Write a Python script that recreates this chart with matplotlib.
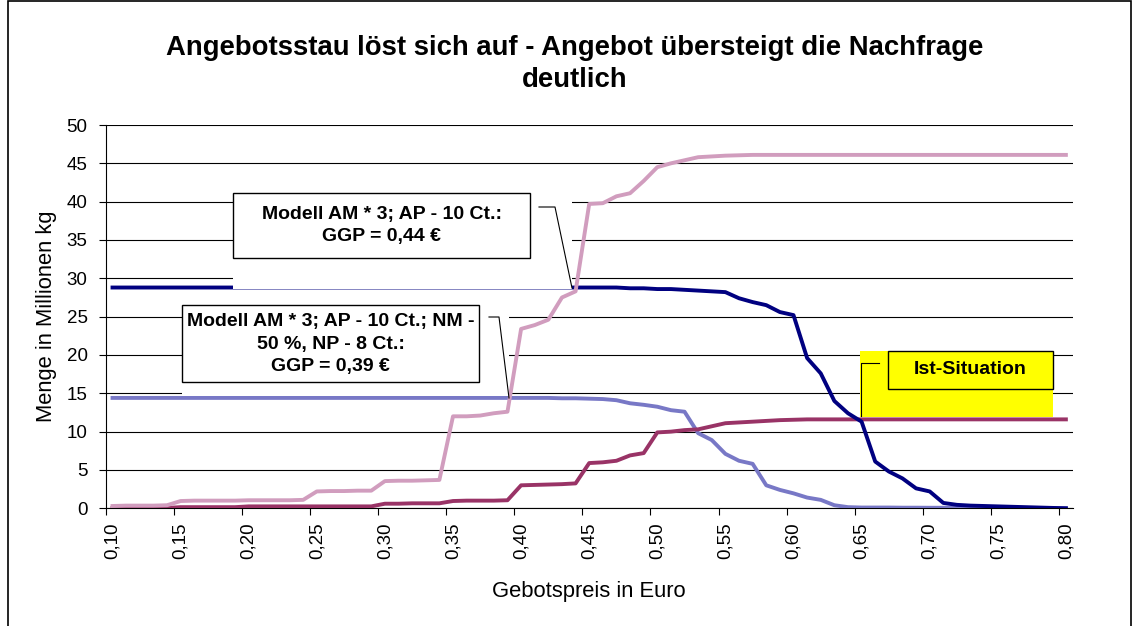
import numpy as np
import matplotlib
matplotlib.use("Agg")
import matplotlib.pyplot as plt
from matplotlib.patches import Rectangle
from matplotlib.lines import Line2D

plt.rcParams['font.family'] = ['Liberation Sans', 'DejaVu Sans']

# =====================
# DATA
# =====================

preise = np.round(np.arange(0.10, 0.8001, 0.01), 2)
preis_labels = [f"{p:.2f}".replace(".", ",") for p in preise]

# Angebot Modell AM*3; AP-10 Ct. (rosa)
angebot_modell1 = [0.3, 0.35, 0.35, 0.35, 0.4,
                   0.95, 1.0, 1.0, 1.0, 1.0, 1.05, 1.05, 1.05, 1.05, 1.1,
                   2.2, 2.25, 2.25, 2.3, 2.3,
                   3.55, 3.6, 3.6, 3.65, 3.7,
                   12.0, 12.0, 12.1, 12.4, 12.6,
                   23.4, 23.9, 24.6, 27.5, 28.3,
                   39.7, 39.8, 40.7, 41.1, 42.7,
                   44.5, 45.0, 45.4, 45.8, 45.9,
                   46.0, 46.05] + [46.1] * 24

# Nachfrage Modell AM*3; AP-10 Ct. (dunkelblau)
nachfrage_modell1 = [28.8] * 38 + [
    28.7, 28.7, 28.6, 28.6, 28.5, 28.4, 28.3, 28.2, 27.4, 26.9,
    26.5, 25.6, 25.2, 19.6, 17.6, 14.0, 12.4, 11.3, 6.1, 4.8,
    3.9, 2.6, 2.2, 0.7, 0.45, 0.35, 0.3, 0.25, 0.2, 0.15,
    0.1, 0.05, 0.0]

# Nachfrage Modell mit NM -50 %, NP -8 Ct. (hellblau)
nachfrage_modell2 = [14.4] * 33 + [
    14.35, 14.35, 14.3, 14.25, 14.1, 13.7, 13.5, 13.25, 12.8, 12.6,
    9.8, 8.9, 7.1, 6.2, 5.8, 3.0, 2.4, 1.95, 1.4, 1.1,
    0.4, 0.15, 0.1,
    0.1, 0.1, 0.08, 0.08, 0.07, 0.07, 0.06, 0.06, 0.05, 0.05,
    0.05, 0.04, 0.04, 0.03, 0.03]

# Angebot Ist-Situation (weinrot)
angebot_ist = [0.05] * 5 + [0.15] * 5 + [0.25] * 10 + [
    0.6, 0.6, 0.65, 0.65, 0.65,
    0.95, 1.0, 1.0, 1.0, 1.05,
    3.0, 3.05, 3.1, 3.15, 3.25,
    5.9, 6.0, 6.2, 6.9, 7.2,
    9.9, 10.0, 10.2, 10.3, 10.7,
    11.1, 11.2, 11.3, 11.4, 11.5,
    11.55] + [11.6] * 20

titel = "Angebotsstau löst sich auf - Angebot übersteigt die Nachfrage\ndeutlich"
text_modell1 = "Modell AM * 3; AP - 10 Ct.:\nGGP = 0,44 €"
text_modell2 = "Modell AM * 3; AP - 10 Ct.; NM -\n50 %, NP - 8 Ct.:\nGGP = 0,39 €"
text_ist = "Ist-Situation"

# =====================
# PLOT
# =====================

W, H = 1139, 626
fig = plt.figure(figsize=(W / 100, H / 100), dpi=100)

def fx(x):
    return x / W

def fy(y):
    return 1 - y / H

ax = fig.add_axes([fx(105.7), fy(508.3), fx(1072.7) - fx(105.7), fy(125) - fy(508.3)])

idx = np.arange(len(preise))
ax.plot(idx, nachfrage_modell2, color="#7878C6", lw=2.8, zorder=3)
ax.plot(idx, angebot_ist, color="#993366", lw=2.8, zorder=4)
ax.plot(idx, nachfrage_modell1, color="#000080", lw=2.8, zorder=5)
ax.plot(idx, angebot_modell1, color="#D19DBE", lw=2.8, zorder=6)

ax.set_xlim(-0.5, len(preise) - 0.5)
ax.set_ylim(0, 50)
ax.set_yticks(np.arange(0, 51, 5))
ax.yaxis.grid(True, color="black", lw=0.8)
ax.set_axisbelow(True)

ax.set_xticks(idx[::5])
ax.set_xticklabels(preis_labels[::5], rotation=90)
ax.set_xticks(np.arange(-0.5, len(preise) - 1, 5), minor=True)
ax.tick_params(axis="x", which="major", length=0, labelsize=13.5, pad=10)
ax.tick_params(axis="x", which="minor", length=5, width=0.8)
ax.tick_params(axis="y", length=5, width=0.8, labelsize=13.5, pad=8)

for s in ["top", "right"]:
    ax.spines[s].set_visible(False)
ax.spines["left"].set_linewidth(0.8)
ax.spines["bottom"].set_linewidth(0.8)

ax.set_ylabel("Menge in Millionen kg", fontsize=15.8, labelpad=7)
ax.set_xlabel("Gebotspreis in Euro", fontsize=15.8, labelpad=16)

fig.text(fx(575), fy(64), titel, ha="center", va="center", fontsize=19.8,
         fontweight="bold", linespacing=1.3)

# Rahmen um das Diagramm
fig.add_artist(Rectangle((fx(8), -0.01), fx(1131) - fx(8), fy(1) + 0.01,
                         transform=fig.transFigure, fill=False,
                         edgecolor="black", lw=1.2))

def px_rect(x0, y0, x1, y1, **kw):
    fig.add_artist(Rectangle((fx(x0), fy(y1)), fx(x1) - fx(x0), fy(y0) - fy(y1),
                             transform=fig.transFigure, **kw))

def px_line(xs, ys, **kw):
    fig.add_artist(Line2D([fx(x) for x in xs], [fy(y) for y in ys],
                          transform=fig.transFigure, **kw))

# Legende 1
px_rect(233, 193, 572, 288.5, facecolor="white", edgecolor="none", zorder=2)
px_rect(233, 193, 530, 258, facecolor="white", edgecolor="black", lw=1, zorder=3)
px_line([539, 555, 572], [207, 207, 288], color="black", lw=0.8, zorder=3)
fig.text(fx(381.5), fy(225.5), text_modell1, ha="center", va="center",
         fontsize=14, fontweight="bold", linespacing=1.45, zorder=4)

# Legende 2
px_rect(182, 305, 509, 395.5, facecolor="white", edgecolor="none", zorder=2)
px_rect(182, 305, 479, 382, facecolor="white", edgecolor="black", lw=1, zorder=3)
px_line([489, 499, 509], [317, 317, 398], color="black", lw=0.8, zorder=3)
fig.text(fx(330.5), fy(344), text_modell2, ha="center", va="center",
         fontsize=14, fontweight="bold", linespacing=1.42, zorder=4)

# Ist-Situation
px_rect(860, 351, 1053, 417, facecolor="#FFFF00", edgecolor="none", zorder=2)
px_rect(888, 351, 1053, 389, facecolor="#FFFF00", edgecolor="black", lw=1, zorder=3)
px_line([861, 861, 879], [416, 363, 363], color="black", lw=0.8, zorder=3)
fig.text(fx(970.5), fy(370), text_ist, ha="center", va="center",
         fontsize=14, fontweight="bold", zorder=4)

fig.savefig("out.png", dpi=100)
